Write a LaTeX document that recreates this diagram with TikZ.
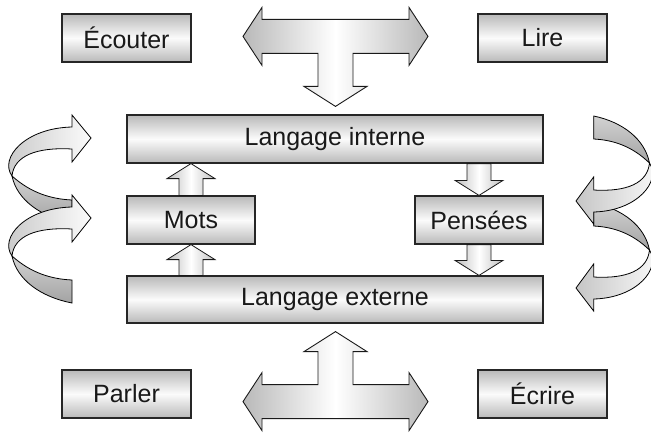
\documentclass[tikz,border=0pt]{standalone}
\usepackage{fontspec}
\setmainfont{Liberation Sans}
\usetikzlibrary{calc}
\newcommand\upblock[2]{\path[smallarrow] let \p1=(#1), \p2=(#2) in (\x1-12pt,\y1) -- (\x1-12pt,\y2-15pt) -- (\x1-24pt,\y2-15pt) -- (\x1,\y2) -- (\x1+24pt,\y2-15pt) -- (\x1+12pt,\y2-15pt) -- (\x1+12pt,\y1) -- cycle;}
\newcommand\downblock[2]{\path[smallarrow] let \p1=(#1), \p2=(#2) in (\x1-12pt,\y1) -- (\x1-12pt,\y2+15pt) -- (\x1-24pt,\y2+15pt) -- (\x1,\y2) -- (\x1+24pt,\y2+15pt) -- (\x1+12pt,\y2+15pt) -- (\x1+12pt,\y1) -- cycle;}
\tikzset{
  box/.style={draw=black!85, line width=1.2pt, top color=gray!55, bottom color=gray!55, middle color=gray!3,
    minimum height=48pt, inner sep=0pt, font=\fontsize{25}{29}\selectfont, text=black!90},
  frontface/.style={draw=black, line width=0.8pt, left color=gray!45, right color=gray!3},
  backface/.style={draw=black, line width=0.8pt, top color=gray!35, bottom color=gray!72},
  bigarrow/.style={draw=black!90, line width=0.9pt, left color=gray!55, right color=gray!55, middle color=white},
  smallarrow/.style={draw=black!90, line width=0.8pt, left color=gray!50, right color=gray!50, middle color=white},
  tarrow/.pic={
    \path[bigarrow] (-92.5,-70) -- (-73.5,-99) -- (-73.5,-87) -- (73.5,-87) -- (73.5,-99) -- (92.5,-70)
      -- (73.5,-41) -- (73.5,-53) -- (17.5,-53) -- (17.5,-20) -- (31.5,-20) -- (0,0) -- (-31.5,-20)
      -- (-17.5,-20) -- (-17.5,-53) -- (-73.5,-53) -- (-73.5,-41) -- cycle;
  },
  twist/.pic={
    \path[backface] (-79,38) .. controls (-60,55) and (-40,61) .. (-19,62) -- (-19,85)
      .. controls (-50,79) and (-74,62) .. (-79,38) -- cycle;
    \path[frontface] (-19,-11) -- (-19,-23) -- (0,0) -- (-19,24) -- (-19,11)
      .. controls (-55,9) and (-77,18) .. (-79,38)
      .. controls (-92,20) and (-66,-10) .. (-19,-11) -- cycle;
  }
}
\begin{document}
\begin{tikzpicture}[x=1pt,y=-1pt]
\useasboundingbox (0,0) rectangle (651,432);
% boxes
\node[box, minimum width=129pt] (ecouter) at (126.5,38) {Écouter};
\node[box, minimum width=129pt] (lire) at (542.5,38) {Lire};
\node[box, minimum width=416pt] (interne) at (335,139) {Langage interne};
\node[box, minimum width=128pt] (mots) at (191,220) {Mots};
\node[box, minimum width=128pt] (pensees) at (479,220) {Pensées};
\node[box, minimum width=416pt, minimum height=47pt] (externe) at (335,299.5) {Langage externe};
\node[box, minimum width=129pt] (parler) at (126.5,394) {Parler};
\node[box, minimum width=129pt] (ecrire) at (542.5,394) {Écrire};
% small block arrows
\upblock{mots.north}{mots.north |- interne.south}
\upblock{mots.south |- externe.north}{mots.south}
\downblock{pensees.north |- interne.south}{pensees.north}
\downblock{pensees.south}{pensees.south |- externe.north}
% T arrows
\path ($(interne.north)+(0.5,-8)$) pic{tarrow};
\path ($(externe.south)+(0.5,8)$) pic[yscale=-1]{tarrow};
% twisted arrows left
\path (91,138) pic{twist};
\path (91,218) pic{twist};
% twisted arrows right
\path (576,288) pic[rotate=180, xscale=0.93]{twist};
\path (576,201) pic[rotate=180, xscale=0.93]{twist};
\end{tikzpicture}
\end{document}
